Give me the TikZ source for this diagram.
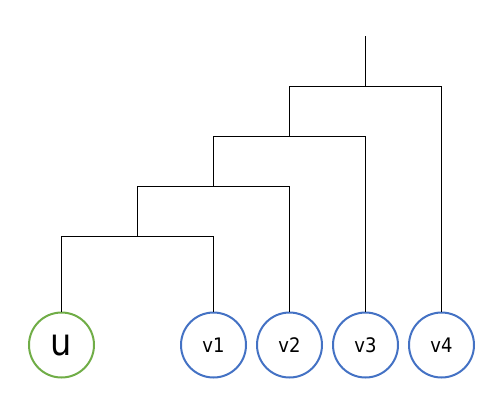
\documentclass[tikz,border=0pt]{standalone}
\usepackage{fontspec}
\setmainfont{DejaVu Sans Condensed}
\definecolor{leafgreen}{RGB}{112,173,71}
\definecolor{leafblue}{RGB}{68,114,196}
\begin{document}
\begin{tikzpicture}[x=0.75pt,y=-0.75pt,
  leaf/.style={circle,draw=leafblue,line width=1.5pt,minimum size=48.75pt,inner sep=0pt,font=\fontsize{15}{18}\selectfont},
  rootleaf/.style={leaf,draw=leafgreen,font=\fontsize{28}{32}\selectfont},
  branch/.style={draw=black,line width=0.75pt}]
\useasboundingbox (0,0) rectangle (495,400);
\node[rootleaf] (u) at (61.5,345) {u};
\node[leaf] (v1) at (213.5,345) {v1};
\node[leaf] (v2) at (289.5,345) {v2};
\node[leaf] (v3) at (365.5,345) {v3};
\node[leaf] (v4) at (441.5,345) {v4};
\coordinate (a1) at (137.5,236.5);
\coordinate (a2) at (213.5,186.5);
\coordinate (a3) at (289.5,136.5);
\coordinate (a4) at (365.5,86.5);
\coordinate (top) at (365.5,36);
\draw[branch] (u.north) |- (a1) -| (v1.north);
\draw[branch] (a1) |- (a2) -| (v2.north);
\draw[branch] (a2) |- (a3) -| (v3.north);
\draw[branch] (a3) |- (a4) -| (v4.north);
\draw[branch] (a4) -- (top);
\end{tikzpicture}
\end{document}
